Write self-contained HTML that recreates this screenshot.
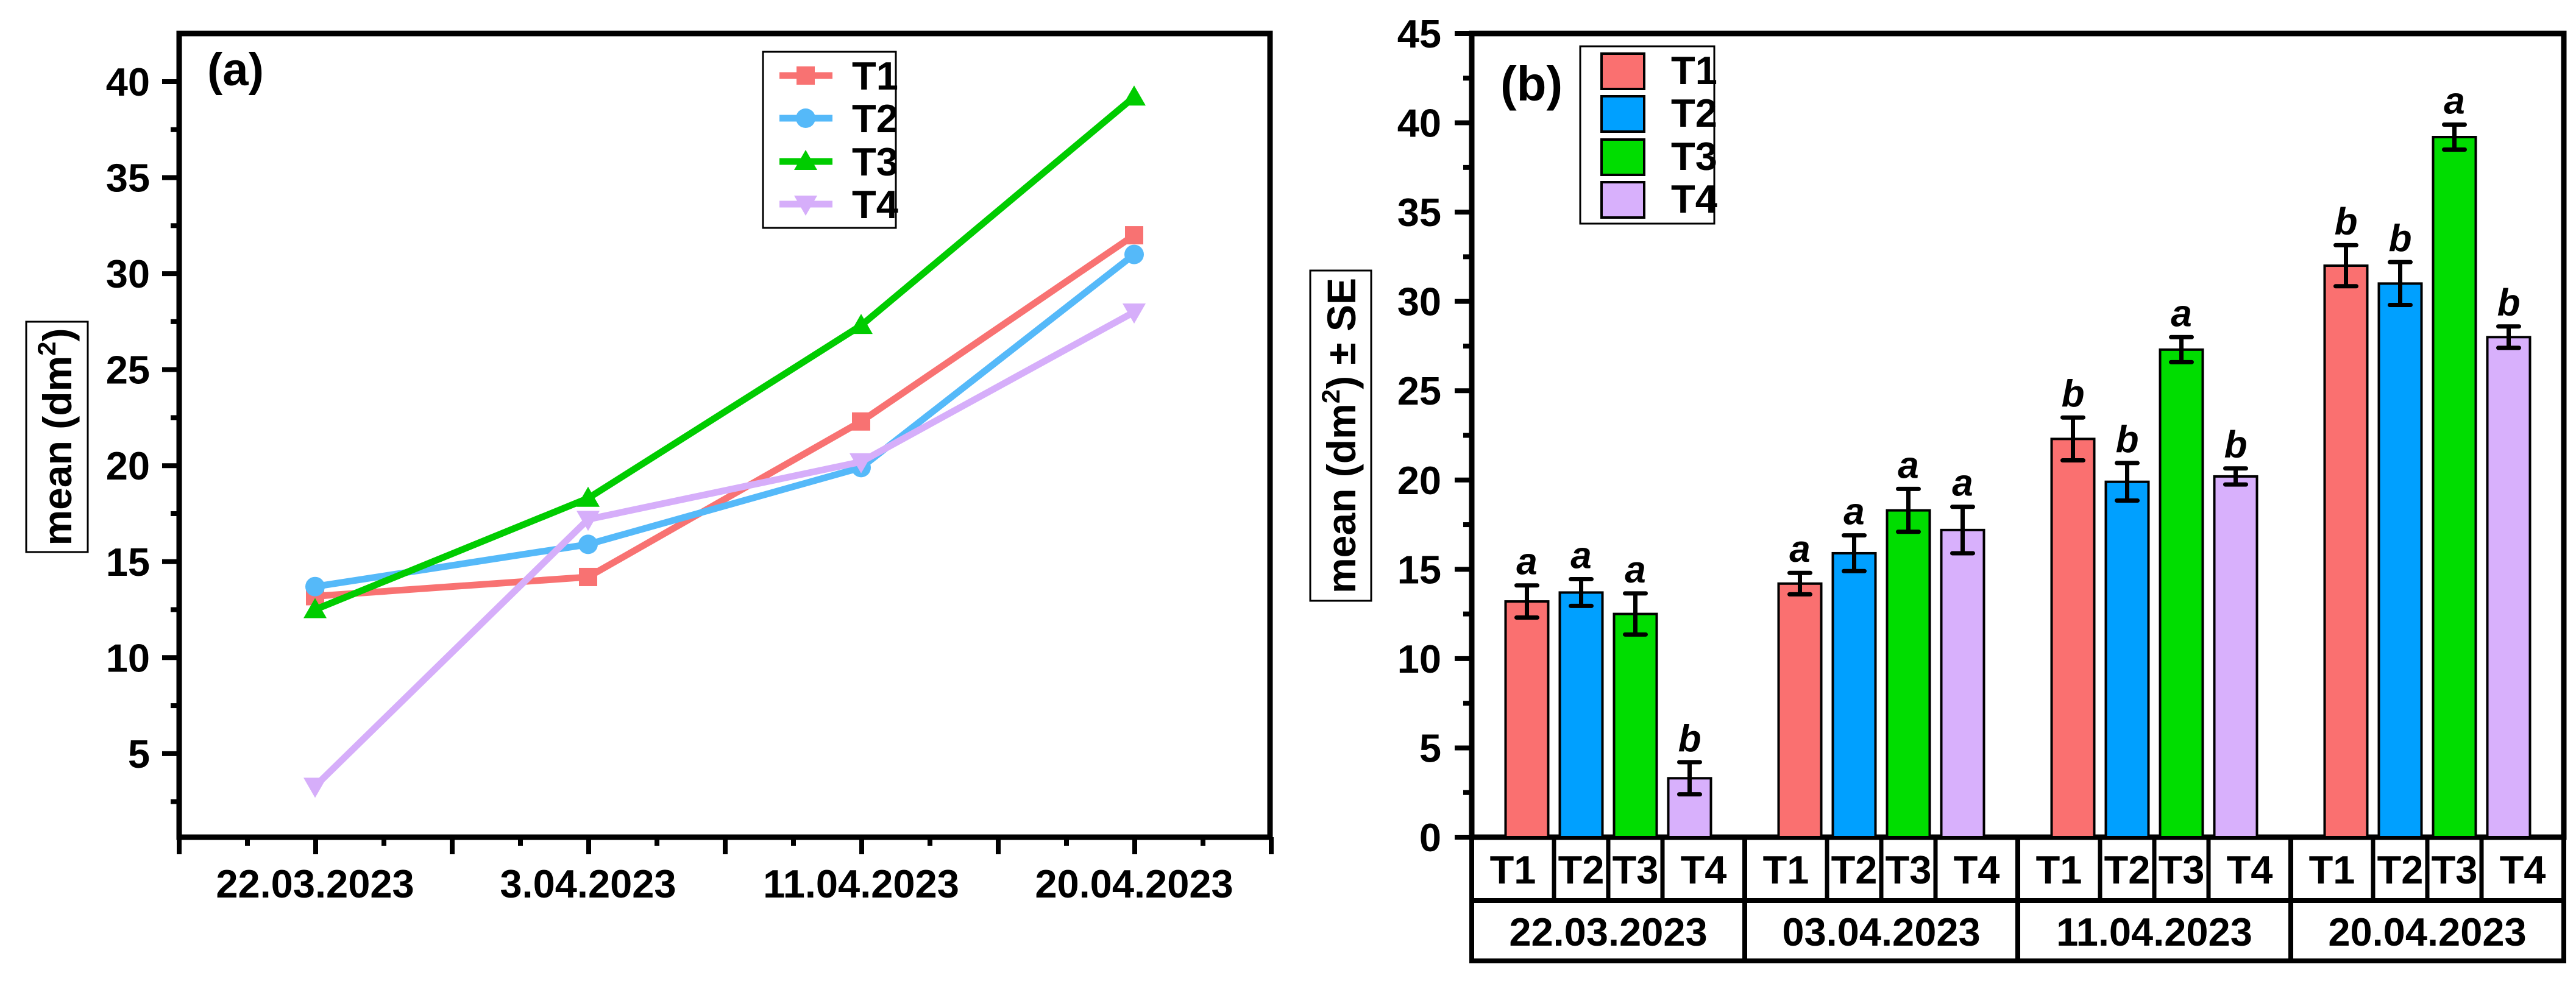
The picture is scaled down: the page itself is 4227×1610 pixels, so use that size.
<!DOCTYPE html>
<html><head><meta charset="utf-8"><style>
html,body{margin:0;padding:0;background:#fff;}
svg{display:block;font-family:"Liberation Sans",Arial,sans-serif;font-weight:bold;}
</style></head><body>
<svg id="fig" width="4227" height="1610" viewBox="0 0 4227 1610" xmlns="http://www.w3.org/2000/svg">
<rect x="0" y="0" width="4227" height="1610" fill="#fff"/>
<g id="pa"></g>
<g id="pb"></g>
</svg>
<script>
const dates = ['22.03.2023','3.04.2023','11.04.2023','20.04.2023'];
const datesB = ['22.03.2023','03.04.2023','11.04.2023','20.04.2023'];
const treatments = ['T1','T2','T3','T4'];
const t1 = [13.2, 14.2, 22.3, 32.0];
const t2 = [13.7, 15.9, 19.9, 31.0];
const t3 = [12.5, 18.3, 27.3, 39.2];
const t4 = [3.3, 17.2, 20.2, 28.0];
const se1 = [0.9, 0.6, 1.2, 1.15];
const se2 = [0.75, 1.0, 1.05, 1.2];
const se3 = [1.15, 1.2, 0.7, 0.7];
const se4 = [0.9, 1.3, 0.45, 0.6];
const let1 = ['a','a','b','b'];
const let2 = ['a','a','b','b'];
const let3 = ['a','a','a','a'];
const let4 = ['b','a','b','b'];
const ticksA = [5,10,15,20,25,30,35,40];
const ticksB = [0,5,10,15,20,25,30,35,40,45];

const NS='http://www.w3.org/2000/svg';
const series=[t1,t2,t3,t4], ses=[se1,se2,se3,se4], lets=[let1,let2,let3,let4];
const lineCol=['#F87272','#55B9F9','#00CC00','#D6AEFA'];
const barCol=['#FA7070','#00A0FF','#00DD00','#D8B0FC'];
function mk(parent,tag,attrs,text){const e=document.createElementNS(NS,tag);for(const k in attrs)e.setAttribute(k,attrs[k]);if(text!==undefined)e.textContent=text;parent.appendChild(e);return e;}

// ---------- Panel A ----------
const pa=document.getElementById('pa');
const aL=294,aR=2084,aT=55,aB=1374;
const ya=v=>134+(40-v)*31.51;
const xa=i=>517+i*448;
let e;
e=mk(pa,'rect',{x:aL,y:aT,width:aR-aL,height:aB-aT,fill:'none',stroke:'#000','stroke-width':9});


for(let v=2.5;v<=40;v+=2.5){const major=(v%5===0);
 e=mk(pa,'line',{x1:aL-(major?28:14),x2:aL,y1:ya(v),y2:ya(v),stroke:'#000','stroke-width':8});
 
 }
ticksA.forEach(v=>{e=mk(pa,'text',{x:246,y:ya(v)+23,'text-anchor':'end','font-size':65},String(v));
 
 });
for(let k=0;k<=16;k++){const major=(k%2===0);const x=aL+k*112;
 e=mk(pa,'line',{x1:x,x2:x,y1:aB,y2:aB+(major?28:14),stroke:'#000','stroke-width':8});
 
 }
dates.forEach((d,i)=>{e=mk(pa,'text',{x:xa(i),y:1473,'text-anchor':'middle','font-size':65},d);
 
 });
e=mk(pa,'rect',{x:43,y:528,width:101,height:378,fill:'none',stroke:'#000','stroke-width':3});


e=mk(pa,'text',{x:0,y:0,'text-anchor':'middle','font-size':66,transform:'translate(117,717) rotate(-90)'});
e.innerHTML='mean (dm<tspan dy="-26" font-size="42">2</tspan><tspan dy="26">)</tspan>';


e=mk(pa,'text',{x:340,y:140,'font-size':76},'(a)');


function marker(g,k,x,y,c){
 if(k===0)return mk(g,'rect',{x:x-15,y:y-15,width:30,height:30,fill:c});
 if(k===1)return mk(g,'circle',{cx:x,cy:y,r:16,fill:c});
 if(k===2)return mk(g,'polygon',{points:`${x},${y-19} ${x-19},${y+14} ${x+19},${y+14}`,fill:c});
 return mk(g,'polygon',{points:`${x},${y+19} ${x-19},${y-14} ${x+19},${y-14}`,fill:c});}
series.forEach((s,k)=>{
 e=mk(pa,'polyline',{points:s.map((v,i)=>xa(i)+','+ya(v)).join(' '),fill:'none',stroke:lineCol[k],'stroke-width':11,'stroke-linejoin':'round'});
 
 
 s.forEach((v,i)=>{e=marker(pa,k,xa(i),ya(v),lineCol[k]);
  
  });
});
e=mk(pa,'rect',{x:1252,y:85,width:218,height:289,fill:'#fff',stroke:'#000','stroke-width':3});


[124,194,265,335].forEach((y,k)=>{
 e=mk(pa,'line',{x1:1279,x2:1366,y1:y,y2:y,stroke:lineCol[k],'stroke-width':11});
 
 
 e=marker(pa,k,1322,y,lineCol[k]);
 
 
 e=mk(pa,'text',{x:1398,y:y+23,'font-size':65},treatments[k]);
 
 });

// ---------- Panel B ----------
const pb=document.getElementById('pb');
const bL=2415,bR=4207,bT=55,bB=1374;
const yb=v=>bB-v*(bB-bT)/45;
const gw=(bR-bL)/4;
const gc=g=>bL+gw*(g+0.5);
const bx=(g,k)=>gc(g)+(k-1.5)*89;
e=mk(pb,'rect',{x:bL,y:bT,width:bR-bL,height:bB-bT,fill:'none',stroke:'#000','stroke-width':9});


for(let v=2.5;v<=45;v+=2.5){const major=(v%5===0);
 e=mk(pb,'line',{x1:bL-(major?28:14),x2:bL,y1:yb(v),y2:yb(v),stroke:'#000','stroke-width':8});
 
 }
e=mk(pb,'line',{x1:bL-28,x2:bL,y1:bB,y2:bB,stroke:'#000','stroke-width':8});
ticksB.forEach(v=>{e=mk(pb,'text',{x:2365,y:yb(v)+23,'text-anchor':'end','font-size':65},String(v));
 
 });
// bars
series.forEach((s,k)=>{s.forEach((v,g)=>{
 const x=bx(g,k);
 e=mk(pb,'rect',{x:x-35,y:yb(v),width:70,height:bB-yb(v),fill:barCol[k],stroke:'#000','stroke-width':4});
 
 
 const se=ses[k][g];
 const yt=yb(v+se), yl=yb(v-se);
 e=mk(pb,'path',{d:`M${x},${yt}V${yl}M${x-17},${yt}H${x+17}M${x-17},${yl}H${x+17}`,stroke:'#000','stroke-width':7,fill:'none','stroke-linecap':'round'});
 
 
 e=mk(pb,'text',{x:x,y:yt-18,'text-anchor':'middle','font-size':62,'font-style':'italic'},lets[k][g]);
 
 
});});
// table
e=mk(pb,'path',{d:`M${bL},${bB}V1577H${bR}V${bB}M${bL},1478H${bR}`,fill:'none',stroke:'#000','stroke-width':8});


for(let g=0;g<4;g++){
 const g0=bL+g*gw;
 if(g>0){e=mk(pb,'line',{x1:g0,x2:g0,y1:bB,y2:1577,stroke:'#000','stroke-width':8});
  
  }
 const edges=[g0,(bx(g,0)+bx(g,1))/2,(bx(g,1)+bx(g,2))/2,(bx(g,2)+bx(g,3))/2,g0+gw];
 for(let k=1;k<4;k++){e=mk(pb,'line',{x1:edges[k],x2:edges[k],y1:bB,y2:1478,stroke:'#000','stroke-width':7});
  
  }
 for(let k=0;k<4;k++){e=mk(pb,'text',{x:(edges[k]+edges[k+1])/2,y:1450,'text-anchor':'middle','font-size':65},treatments[k]);
  
  }
 e=mk(pb,'text',{x:gc(g),y:1552,'text-anchor':'middle','font-size':65},datesB[g]);
 
 
}
e=mk(pb,'rect',{x:2150,y:444,width:100,height:542,fill:'none',stroke:'#000','stroke-width':3});


e=mk(pb,'text',{x:0,y:0,'text-anchor':'middle','font-size':66,transform:'translate(2224,715) rotate(-90)'});
e.innerHTML='mean (dm<tspan dy="-26" font-size="42">2</tspan><tspan dy="26">) ± SE</tspan>';


e=mk(pb,'text',{x:2462,y:165,'font-size':80},'(b)');


e=mk(pb,'rect',{x:2593,y:76,width:220,height:291,fill:'#fff',stroke:'#000','stroke-width':3});


[88,158,229,299].forEach((y,k)=>{
 e=mk(pb,'rect',{x:2628,y:y,width:70,height:58,fill:barCol[k],stroke:'#000','stroke-width':4});
 
 
 e=mk(pb,'text',{x:2742,y:y+50,'font-size':65},treatments[k]);
 
 });
</script>
</body></html>
